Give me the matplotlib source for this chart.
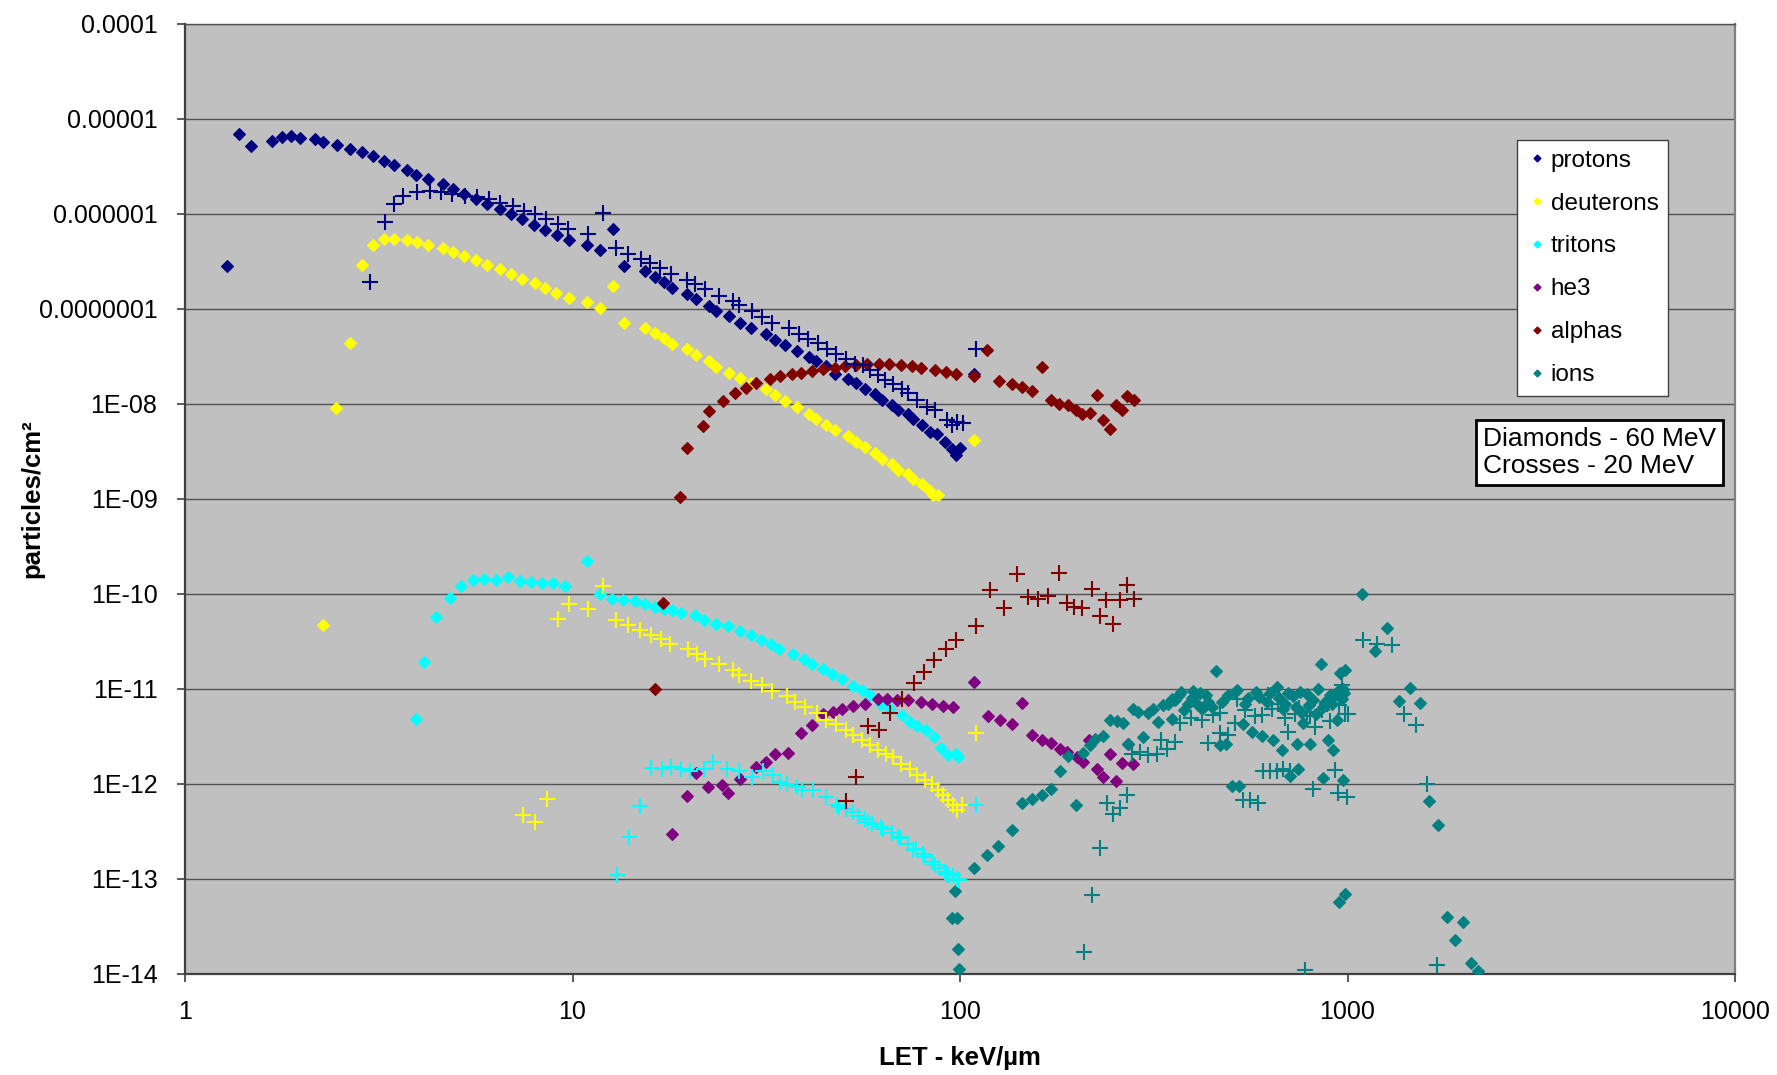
import matplotlib
matplotlib.use('Agg')
import matplotlib.pyplot as plt
from matplotlib.ticker import NullLocator

plt.rcParams['font.family'] = ['Liberation Sans', 'DejaVu Sans']

# LET (keV/um), fluence (particles/cm2) -- diamonds = 60 MeV, crosses = 20 MeV
protons_60 = [(1.28, 2.84e-7), (1.38, 6.95e-6), (1.48, 5.16e-6), (1.68, 5.93e-6), (1.78, 6.47e-6),
              (1.88, 6.57e-6), (1.98, 6.37e-6), (2.17, 6.1e-6), (2.27, 5.69e-6), (2.47, 5.32e-6),
              (2.67, 4.88e-6), (2.86, 4.46e-6), (3.06, 4.05e-6), (3.26, 3.65e-6), (3.46, 3.26e-6),
              (3.75, 2.9e-6), (3.95, 2.6e-6), (4.25, 2.32e-6), (4.64, 2.07e-6), (4.92, 1.85e-6),
              (5.26, 1.62e-6), (5.64, 1.44e-6), (6.03, 1.27e-6), (6.5, 1.12e-6), (6.93, 1.0e-6),
              (7.4, 8.8e-7), (7.97, 7.73e-7), (8.51, 6.85e-7), (9.1, 6.07e-7), (9.8, 5.32e-7),
              (10.9, 4.72e-7), (11.75, 4.15e-7), (12.7, 6.9e-7), (13.6, 2.84e-7), (15.4, 2.5e-7),
              (16.3, 2.16e-7), (17.2, 1.9e-7), (18.1, 1.66e-7), (19.8, 1.44e-7), (20.8, 1.26e-7),
              (22.5, 1.08e-7), (23.4, 9.5e-8), (25.3, 8.4e-8), (27.1, 7.2e-8), (28.9, 6.3e-8),
              (31.5, 5.45e-8), (33.3, 4.76e-8), (35.3, 4.18e-8), (37.9, 3.61e-8), (40.7, 3.15e-8),
              (42.5, 2.8e-8), (45.1, 2.51e-8), (47.7, 2.09e-8), (51.3, 1.85e-8), (54, 1.65e-8),
              (56.9, 1.44e-8), (60.3, 1.26e-8), (63, 1.11e-8), (66.8, 9.7e-9), (69.3, 8.7e-9),
              (73.6, 7.9e-9), (75.8, 6.9e-9), (79.6, 5.97e-9), (83.7, 5.07e-9), (87.4, 4.88e-9),
              (91.5, 3.98e-9), (95.2, 3.39e-9), (97.4, 2.88e-9), (100, 3.44e-9), (108.9, 2.09e-8)]

protons_20 = [(3.0, 1.92e-7), (3.29, 8.3e-7), (3.47, 1.26e-6), (3.66, 1.54e-6), (3.98, 1.71e-6),
              (4.29, 1.75e-6), (4.58, 1.71e-6), (4.88, 1.64e-6), (5.27, 1.55e-6), (5.68, 1.51e-6),
              (6.09, 1.43e-6), (6.51, 1.32e-6), (7.02, 1.2e-6), (7.51, 1.07e-6), (7.99, 9.9e-7),
              (8.56, 8.8e-7), (9.16, 7.9e-7), (9.76, 7.0e-7), (10.99, 6.2e-7), (12.0, 1.03e-6),
              (12.95, 4.38e-7), (13.9, 3.83e-7), (15.0, 3.39e-7), (15.85, 3.05e-7), (16.8, 2.7e-7),
              (17.96, 2.36e-7), (19.8, 2.04e-7), (20.7, 1.82e-7), (22.0, 1.61e-7), (23.9, 1.38e-7),
              (26.0, 1.21e-7), (26.9, 1.09e-7), (29.0, 9.45e-8), (30.8, 8.24e-8), (32.8, 7.2e-8),
              (36.2, 6.3e-8), (38.5, 5.5e-8), (40.6, 4.88e-8), (43.1, 4.43e-8), (45.3, 3.83e-8),
              (47.9, 3.39e-8), (50.9, 2.95e-8), (53.6, 2.66e-8), (56.3, 2.6e-8), (58.6, 2.26e-8),
              (61.5, 2.0e-8), (64, 1.78e-8), (67.3, 1.61e-8), (70.7, 1.45e-8), (73.6, 1.3e-8),
              (77.3, 1.09e-8), (82, 9.3e-9), (86.1, 8.6e-9), (92.4, 6.7e-9), (95.1, 5.97e-9),
              (98, 6.5e-9), (101.9, 6.3e-9), (109.7, 3.77e-8)]

deuterons_60 = [(2.27, 4.68e-11), (2.46, 9.0e-9), (2.67, 4.38e-8), (2.86, 2.87e-7), (3.06, 4.77e-7),
                (3.26, 5.42e-7), (3.46, 5.5e-7), (3.75, 5.37e-7), (3.96, 5.03e-7), (4.25, 4.72e-7),
                (4.64, 4.43e-7), (4.93, 4.02e-7), (5.25, 3.65e-7), (5.64, 3.26e-7), (6.03, 2.93e-7),
                (6.51, 2.62e-7), (6.93, 2.33e-7), (7.4, 2.09e-7), (7.99, 1.86e-7), (8.5, 1.65e-7),
                (9.09, 1.46e-7), (9.8, 1.3e-7), (10.9, 1.17e-7), (11.75, 1.03e-7), (12.7, 1.73e-7),
                (13.6, 7.2e-8), (15.4, 6.37e-8), (16.3, 5.58e-8), (17.2, 4.95e-8), (18.1, 4.32e-8),
                (19.8, 3.77e-8), (20.8, 3.31e-8), (22.5, 2.84e-8), (23.4, 2.45e-8), (25.3, 2.14e-8),
                (27.1, 1.86e-8), (28.9, 1.66e-8), (31.5, 1.42e-8), (33.3, 1.24e-8), (35.3, 1.07e-8),
                (37.9, 9.2e-9), (40.7, 7.9e-9), (42.5, 6.95e-9), (45.1, 6.07e-9), (47.7, 5.28e-9),
                (51.3, 4.57e-9), (54, 3.98e-9), (56.9, 3.52e-9), (60.3, 3.05e-9), (63, 2.66e-9),
                (66.8, 2.32e-9), (69.3, 2.04e-9), (73.6, 1.82e-9), (75.8, 1.64e-9), (79.6, 1.43e-9),
                (83, 1.23e-9), (85.2, 1.09e-9), (87.5, 1.09e-9), (108.9, 4.15e-9)]

deuterons_20 = [(7.46, 4.68e-13), (8.0, 3.98e-13), (8.58, 7.0e-13), (9.19, 5.5e-11), (9.81, 7.9e-11),
                (10.99, 7.0e-11), (11.97, 1.2e-10), (12.95, 5.28e-11), (13.9, 4.68e-11), (14.9, 4.2e-11),
                (15.9, 3.73e-11), (16.9, 3.33e-11), (17.9, 3.0e-11), (19.9, 2.66e-11), (20.9, 2.36e-11),
                (22.0, 2.09e-11), (23.9, 1.82e-11), (26.0, 1.57e-11), (26.9, 1.39e-11), (28.9, 1.21e-11),
                (30.8, 1.09e-11), (32.7, 9.5e-12), (35.7, 8.4e-12), (37.5, 7.3e-12), (39.8, 6.5e-12),
                (42.7, 5.58e-12), (45.0, 4.76e-12), (47.9, 4.25e-12), (50.8, 3.74e-12), (53, 3.26e-12),
                (55.7, 2.88e-12), (58.6, 2.6e-12), (61.5, 2.3e-12), (64.6, 2.09e-12), (67.3, 1.9e-12),
                (70.3, 1.64e-12), (74.3, 1.45e-12), (77.3, 1.24e-12), (81.2, 1.11e-12), (84.5, 9.9e-13),
                (87.5, 8.6e-13), (90.5, 7.6e-13), (93.3, 6.7e-13), (96.1, 5.97e-13), (98, 5.28e-13),
                (100.9, 5.97e-13), (109.7, 3.44e-12)]

tritons_60 = [(3.95, 4.88e-12), (4.15, 1.94e-11), (4.44, 5.78e-11), (4.84, 9.08e-11), (5.15, 1.21e-10),
              (5.53, 1.4e-10), (5.91, 1.42e-10), (6.34, 1.4e-10), (6.82, 1.5e-10), (7.31, 1.36e-10),
              (7.8, 1.34e-10), (8.32, 1.32e-10), (8.9, 1.31e-10), (9.58, 1.21e-10), (10.9, 2.22e-10),
              (11.8, 9.93e-11), (12.65, 8.9e-11), (13.5, 8.6e-11), (14.5, 8.4e-11), (15.4, 7.9e-11),
              (16.3, 7.3e-11), (17.2, 7.0e-11), (18.1, 6.7e-11), (19.0, 6.3e-11), (20.7, 5.97e-11),
              (21.8, 5.28e-11), (23.5, 4.87e-11), (25.2, 4.57e-11), (27.1, 4.08e-11), (28.8, 3.67e-11),
              (30.7, 3.31e-11), (32.5, 2.96e-11), (34.2, 2.66e-11), (37, 2.32e-11), (39.5, 2.09e-11),
              (41.4, 1.85e-11), (44.2, 1.61e-11), (46.8, 1.42e-11), (49.6, 1.26e-11), (53, 1.08e-11),
              (55.7, 9.7e-12), (58.6, 8.6e-12), (62.7, 7.0e-12), (65.9, 6.2e-12), (70.7, 5.28e-12),
              (74.5, 4.5e-12), (77.5, 4.08e-12), (81.6, 3.74e-12), (85.6, 3.13e-12), (89.1, 2.4e-12),
              (93.1, 2.04e-12), (97.5, 2.09e-12), (98.6, 1.92e-12), (108.7, 1.19e-11)]

tritons_20 = [(13.0, 1.09e-13), (14.0, 2.77e-13), (14.9, 5.82e-13), (15.9, 1.49e-12), (17.0, 1.42e-12),
              (18.0, 1.51e-12), (19.0, 1.45e-12), (20.1, 1.37e-12), (21.8, 1.45e-12), (23.0, 1.71e-12),
              (25.0, 1.45e-12), (26.9, 1.37e-12), (29.0, 1.17e-12), (31.0, 1.37e-12), (33.0, 1.24e-12),
              (34.3, 1.05e-12), (35.8, 9.9e-13), (37.9, 9.3e-13), (39.0, 8.6e-13), (41.8, 8.6e-13),
              (45.1, 7.3e-13), (48.1, 6.07e-13), (48.8, 5.73e-13), (50.7, 5.5e-13), (53.0, 5.07e-13),
              (54.5, 4.6e-13), (56.9, 4.32e-13), (57.8, 3.98e-13), (59.2, 3.83e-13), (62.5, 3.52e-13),
              (63.4, 3.39e-13), (66.6, 3.05e-13), (69.3, 2.77e-13), (70, 2.7e-13), (73.6, 2.36e-13),
              (75.8, 2.0e-13), (76.9, 2.09e-13), (80.1, 1.85e-13), (81.2, 1.71e-13), (84.5, 1.51e-13),
              (86.2, 1.39e-13), (88.3, 1.29e-13), (91.5, 1.19e-13), (92.4, 1.14e-13), (93.2, 1.09e-13),
              (96.1, 1.09e-13), (98, 1.01e-13), (99.6, 9.86e-14), (109.7, 6.07e-13)]

he3_60 = [(18.1, 2.96e-13), (19.8, 7.55e-13), (20.8, 1.29e-12), (22.4, 9.3e-13), (24.3, 9.7e-13),
          (25.2, 8.1e-13), (27.1, 1.14e-12), (29.7, 1.51e-12), (31.5, 1.71e-12), (33.4, 2.06e-12),
          (36.0, 2.12e-12), (38.8, 3.44e-12), (41.6, 4.22e-12), (44.2, 5.5e-12), (46.9, 5.73e-12),
          (49.7, 6.1e-12), (53, 6.6e-12), (56.9, 7.0e-12), (61.3, 7.9e-12), (64.9, 7.9e-12),
          (68.6, 7.7e-12), (73.6, 7.7e-12), (79.1, 7.3e-12), (84.5, 6.9e-12), (90.2, 6.6e-12),
          (96.1, 6.5e-12), (108.7, 1.17e-11), (117.8, 5.16e-12), (126.8, 4.69e-12), (135.9, 4.26e-12),
          (144.8, 7.2e-12), (153.8, 3.26e-12), (163, 2.88e-12), (171.7, 2.7e-12), (181.2, 2.36e-12),
          (188.4, 2.17e-12), (200, 1.92e-12), (208, 1.71e-12), (215.7, 2.88e-12), (225.2, 1.42e-12),
          (234.4, 1.17e-12), (243.8, 2.06e-12), (252.7, 1.08e-12), (262.4, 1.68e-12), (271, 2.66e-12),
          (280.3, 1.61e-12)]

alphas_60 = [(16.3, 9.9e-12), (17.1, 8.0e-11), (18.9, 1.05e-9), (19.8, 3.48e-9), (21.7, 5.86e-9),
             (22.5, 8.37e-9), (24.4, 1.07e-8), (26.2, 1.29e-8), (28, 1.49e-8), (29.7, 1.68e-8),
             (32.4, 1.81e-8), (34.3, 1.96e-8), (36.9, 2.09e-8), (38.8, 2.14e-8), (41.6, 2.25e-8),
             (44.2, 2.34e-8), (47.5, 2.42e-8), (50.5, 2.49e-8), (53.8, 2.6e-8), (57.4, 2.66e-8),
             (61.9, 2.62e-8), (65.7, 2.62e-8), (70.3, 2.6e-8), (75.1, 2.54e-8), (79.4, 2.42e-8),
             (86.3, 2.3e-8), (92, 2.17e-8), (97.9, 2.06e-8), (108.9, 1.97e-8), (117.6, 3.67e-8),
             (125.9, 1.73e-8), (135.9, 1.61e-8), (144.8, 1.51e-8), (153.8, 1.37e-8), (162.3, 2.45e-8),
             (171.2, 1.09e-8), (180.3, 1.01e-8), (190.3, 9.86e-9), (199, 8.6e-9), (207, 7.9e-9),
             (217, 8.05e-9), (225, 1.25e-8), (234.3, 6.7e-9), (243.8, 5.5e-9), (252.7, 9.86e-9),
             (262.4, 8.7e-9), (270.3, 1.2e-8), (281.2, 1.09e-8)]

alphas_20 = [(50.8, 6.6e-13), (53.9, 1.17e-12), (58.0, 4.08e-12), (61.9, 3.67e-12), (66.0, 5.65e-12),
             (70.7, 7.93e-12), (75.9, 1.16e-11), (80.9, 1.51e-11), (85.8, 2.0e-11), (91.8, 2.62e-11),
             (97.4, 3.26e-11), (109.7, 4.57e-11), (119.8, 1.11e-10), (129.9, 7.2e-11), (140, 1.64e-10),
             (149.4, 9.3e-11), (159.2, 8.9e-11), (168.9, 9.46e-11), (180, 1.66e-10), (188.4, 8.1e-11),
             (196.8, 7.3e-11), (207, 7.2e-11), (219.3, 1.14e-10), (229.6, 5.82e-11), (238.2, 8.73e-11),
             (248.4, 4.87e-11), (258.8, 8.6e-11), (269.2, 1.23e-10), (281.2, 8.9e-11)]

ions_60 = [(95.5, 3.88e-14), (97.1, 7.4e-14), (98, 3.88e-14), (99, 1.85e-14), (99.6, 1.14e-14),
           (108.5, 1.29e-13), (117.6, 1.77e-13), (125.6, 2.21e-13), (135.9, 3.26e-13), (144.8, 6.37e-13),
           (153.8, 6.9e-13), (163, 7.6e-13), (171.7, 8.9e-13), (181.2, 1.37e-12), (190.3, 1.96e-12),
           (198.9, 5.97e-13), (208, 2.12e-12), (216.5, 2.55e-12), (222.9, 3.0e-12), (234.4, 3.18e-12),
           (243.8, 4.76e-12), (253.6, 4.57e-12), (263, 4.33e-12), (271.8, 2.66e-12), (280.3, 6.22e-12),
           (288.4, 5.73e-12), (297.4, 3.13e-12), (306.3, 5.58e-12), (315.5, 6.22e-12), (325, 4.5e-12),
           (334.7, 6.74e-12), (344.9, 7.0e-12), (351.7, 4.88e-12), (352, 7.9e-12), (358.9, 7.6e-12),
           (368, 8.6e-12), (372, 9.3e-12), (378.4, 6.07e-12), (388.2, 6.9e-12), (396, 8.1e-12),
           (400, 9.6e-12), (407.8, 7.0e-12), (415, 9.0e-12), (420, 6.22e-12), (432.5, 8.6e-12),
           (437, 7.3e-12), (445.6, 6.47e-12), (459, 1.55e-11), (468.7, 2.55e-12), (473, 7.3e-12),
           (485.6, 2.66e-12), (492, 8.6e-12), (502, 9.46e-13), (512.6, 9.3e-12), (520, 9.8e-12),
           (526, 9.46e-13), (538.5, 4.26e-12), (543.3, 7.0e-12), (555, 8.1e-12), (565.4, 3.52e-12),
           (582, 9.3e-12), (590, 8.3e-12), (599.8, 3.18e-12), (618.5, 7.3e-12), (630, 9.0e-12),
           (643.5, 2.88e-12), (656, 1.05e-11), (665, 8.0e-12), (676, 2.27e-12), (682.8, 6.22e-12),
           (690, 7.0e-12), (703, 9.07e-12), (710.8, 1.2e-12), (724.5, 8.5e-12), (735, 6.5e-12),
           (739.6, 2.66e-12), (746.5, 1.42e-12), (754, 9.3e-12), (760, 5.7e-12), (769, 4.33e-12),
           (784, 8.9e-12), (795, 6.7e-12), (800, 2.66e-12), (816, 7.6e-12), (830, 5.5e-12),
           (840.6, 1.01e-11), (854.4, 1.85e-11), (862, 1.16e-12), (866, 6.47e-12), (875, 7.3e-12),
           (891.4, 2.88e-12), (901, 8.6e-12), (910, 6.9e-12), (918.5, 2.27e-12), (925, 8.5e-12),
           (937.5, 4.69e-12), (945, 9.6e-12), (952.5, 5.7e-14), (955, 1.49e-11), (956, 8.9e-12),
           (965, 7.8e-12), (971, 1.01e-11), (971.6, 1.09e-12), (980, 9.0e-12), (985, 1.57e-11),
           (985, 7.0e-14), (1088, 1.01e-10), (1180, 2.51e-11), (1267, 4.33e-11), (1358, 7.4e-12),
           (1450, 1.03e-11), (1538, 7.2e-12), (1625, 6.6e-13), (1715, 3.74e-13), (1802, 3.98e-14),
           (1892, 2.26e-14), (1982, 3.52e-14), (2078, 1.31e-14), (2176, 1.08e-14)]

ions_20 = [(209.3, 1.7e-14), (219.3, 6.85e-14), (229.6, 2.14e-13), (238.8, 6.3e-13), (247.5, 4.8e-13),
           (258.8, 5.64e-13), (269.2, 7.6e-13), (278.6, 2.09e-12), (291, 2.17e-12), (306.3, 2.0e-12),
           (321.8, 2.09e-12), (329.5, 2.88e-12), (341.5, 2.36e-12), (358.9, 2.77e-12), (369.7, 4.33e-12),
           (395, 5.0e-12), (420, 4.69e-12), (437.3, 2.7e-12), (449, 5.28e-12), (468.7, 3.44e-12),
           (470, 5.6e-12), (492, 3.26e-12), (512.6, 4.33e-12), (517.6, 7.9e-12), (538.5, 6.7e-13),
           (545, 6.0e-12), (560, 6.7e-13), (577, 5.16e-12), (588.6, 6.37e-13), (600, 5.3e-12),
           (606, 1.37e-12), (622, 8.6e-12), (630, 1.37e-12), (640, 6.2e-12), (656, 1.37e-12),
           (660, 7.0e-12), (683, 1.42e-12), (690, 4.9e-12), (703, 3.52e-12), (711, 1.37e-12),
           (733, 5.5e-12), (750, 6.3e-12), (777, 1.1e-14), (784, 5.73e-12), (800, 5.2e-12),
           (816, 8.9e-13), (826, 4.0e-12), (860, 6.0e-12), (883, 7.0e-12), (900, 4.6e-12),
           (928.4, 1.4e-12), (946, 8.1e-13), (950, 6.8e-12), (966, 1.11e-11), (985, 5.5e-12),
           (995, 7.3e-13), (1000, 5.5e-12), (1099, 3.26e-11), (1194, 3.0e-11), (1300, 2.93e-11),
           (1399, 5.5e-12), (1499, 4.15e-12), (1600, 9.9e-13), (1698, 1.24e-14)]

names = ['protons', 'deuterons', 'tritons', 'he3', 'alphas', 'ions']
colors = ['#000080', '#FFFF00', '#00FFFF', '#800080', '#800000', '#008080']
series_60 = [protons_60, deuterons_60, tritons_60, he3_60, alphas_60, ions_60]
series_20 = [protons_20, deuterons_20, tritons_20, None, alphas_20, ions_20]

x_ticks = [1, 10, 100, 1000, 10000]
x_tick_labels = ['1', '10', '100', '1000', '10000']
y_ticks = [1e-14, 1e-13, 1e-12, 1e-11, 1e-10, 1e-9, 1e-8, 1e-7, 1e-6, 1e-5, 1e-4]
y_tick_labels = ['1E-14', '1E-13', '1E-12', '1E-11', '1E-10', '1E-09', '1E-08',
                 '0.0000001', '0.000001', '0.00001', '0.0001']

fig = plt.figure(figsize=(17.77, 10.75), dpi=100)
ax = fig.add_axes([0.1041, 0.0940, 0.8723, 0.8837])
ax.set_facecolor('#C0C0C0')
ax.set_xscale('log')
ax.set_yscale('log')

# diamonds first (60 MeV), then crosses (20 MeV) on top
for name, col, pts in zip(names, colors, series_60):
    xs, ys = zip(*pts)
    ax.plot(xs, ys, ls='none', marker='D', ms=6.0, mew=0.8, mfc=col, mec=col,
            label=name, zorder=3)
for col, pts in zip(colors, series_20):
    if pts is None:
        continue
    xs, ys = zip(*pts)
    ax.plot(xs, ys, ls='none', marker='+', ms=11, mew=1.5, color=col, zorder=4)

ax.set_xlim(1, 10000)
ax.set_ylim(1e-14, 1e-4)
ax.set_xticks(x_ticks, x_tick_labels)
ax.set_yticks(y_ticks, y_tick_labels)
ax.xaxis.set_minor_locator(NullLocator())
ax.yaxis.set_minor_locator(NullLocator())
ax.tick_params(axis='both', which='major', direction='out', length=5.8, width=1.2,
               color='#404040', labelsize=18)
ax.tick_params(axis='y', pad=14)
ax.tick_params(axis='x', pad=13)

ax.yaxis.grid(True, color='#505050', linewidth=1.0)
ax.set_axisbelow(True)
for side in ['left', 'bottom']:
    ax.spines[side].set_color('#404040')
    ax.spines[side].set_linewidth(1.6)
ax.spines['right'].set_color('#808080')
ax.spines['right'].set_linewidth(1.6)
ax.spines['top'].set_color('#505050')
ax.spines['top'].set_linewidth(1.0)

ax.set_xlabel('LET - keV/µm', fontsize=18.5, fontweight='bold')
ax.xaxis.set_label_coords(0.5, -0.076)
ax.set_ylabel('particles/cm²', fontsize=18.5, fontweight='bold')
ax.yaxis.set_label_coords(-0.091, 0.5)

leg = ax.legend(loc='upper left', bbox_to_anchor=(0.859, 0.878), fontsize=17.5,
                frameon=True, fancybox=False, edgecolor='#404040', framealpha=1,
                labelspacing=0.86, handlelength=0.9, handletextpad=0.1, borderpad=0.4,
                markerscale=0.6, numpoints=1, borderaxespad=0)
leg.get_frame().set_linewidth(1.0)

ax.text(0.8372, 0.549, 'Diamonds - 60 MeV\nCrosses - 20 MeV', transform=ax.transAxes,
        fontsize=19, ha='left', va='center', linespacing=1.17, zorder=6,
        bbox=dict(boxstyle='square,pad=0.27', fc='white', ec='black', lw=2))

fig.savefig('out.png', dpi=100)
